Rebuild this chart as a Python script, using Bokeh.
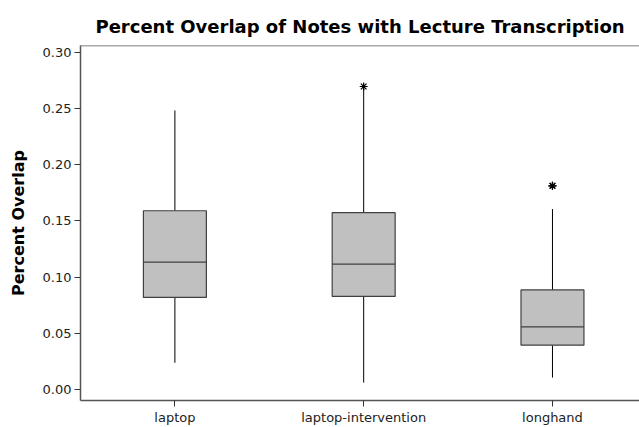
from bokeh.plotting import figure
from bokeh.models import Range1d, FixedTicker, Span, ColumnDataSource
from bokeh.embed import file_html
from bokeh.resources import INLINE

title_text = "Percent Overlap of Notes with Lecture Transcription"
categories = ["laptop", "laptop-intervention", "longhand"]
lower = [0.0236, 0.0059, 0.0104]
q1 = [0.0818, 0.0827, 0.0393]
median = [0.1133, 0.1115, 0.0555]
q3 = [0.1590, 0.1573, 0.0885]
upper = [0.2484, 0.2680, 0.1605]
outlier_cat = [1, 2, 2]
outlier_val = [0.2697, 0.1812, 0.1812]
y_ticks = [0.00, 0.05, 0.10, 0.15, 0.20, 0.25, 0.30]

xs = [i + 0.5 for i in range(len(categories))]
y_start, y_end = -0.0100, 0.3062

p = figure(width=639, height=427, output_backend="svg", toolbar_location=None,
           x_range=Range1d(0, 2.961), y_range=Range1d(y_start, y_end),
           title=title_text,
           min_border_left=80, min_border_right=0, min_border_top=45, min_border_bottom=25)

p.title.align = "center"
p.title.text_font = "DejaVu Sans"
p.title.text_font_size = "18px"
p.title.text_font_style = "bold"
p.title.text_color = "black"
p.title.standoff = 18

p.grid.visible = False
p.outline_line_color = None
p.background_fill_color = "white"
p.border_fill_color = "white"

src = ColumnDataSource(dict(x=xs, lower=lower, q1=q1, median=median, q3=q3, upper=upper))

box_w = 63 / 188.9
p.segment(x0="x", y0="q3", x1="x", y1="upper", source=src, line_color="black", line_width=1)
p.segment(x0="x", y0="q1", x1="x", y1="lower", source=src, line_color="black", line_width=1)
p.vbar(x="x", width=box_w, top="q3", bottom="q1", source=src,
       fill_color="#c0c0c0", line_color="#404040", line_width=1.2)
p.segment(x0=[x - box_w / 2 for x in xs], y0=median, x1=[x + box_w / 2 for x in xs], y1=median,
          line_color="#404040", line_width=1.2)

p.scatter(x=[xs[i] for i in outlier_cat], y=outlier_val, marker="asterisk", size=8,
          line_color="black", line_width=1.2)

p.add_layout(Span(location=y_end, dimension="width", line_color="#555555", line_width=1.5))

p.yaxis.ticker = FixedTicker(ticks=y_ticks)
p.yaxis.formatter.use_scientific = False
p.yaxis.major_label_overrides = {t: f"{t:.2f}" for t in y_ticks}
p.yaxis.axis_label = "Percent Overlap"
p.yaxis.axis_label_text_font = "DejaVu Sans"
p.yaxis.axis_label_text_font_style = "bold"
p.yaxis.axis_label_text_font_size = "16px"
p.yaxis.axis_label_text_color = "black"
p.yaxis.axis_label_standoff = 12

p.xaxis.ticker = FixedTicker(ticks=xs)
p.xaxis.major_label_overrides = {x: c for x, c in zip(xs, categories)}

for ax in (p.xaxis, p.yaxis):
    ax.minor_tick_line_color = None
    ax.major_tick_in = 0
    ax.major_tick_out = 6
    ax.major_tick_line_color = "#333333"
    ax.axis_line_color = "#555555"
    ax.axis_line_width = 1.5
    ax.major_label_standoff = 3
    ax.major_label_text_font = "DejaVu Sans"
    ax.major_label_text_font_size = "13px"
    ax.major_label_text_color = "#222222"

open("out.html", "w").write(file_html(p, INLINE))
